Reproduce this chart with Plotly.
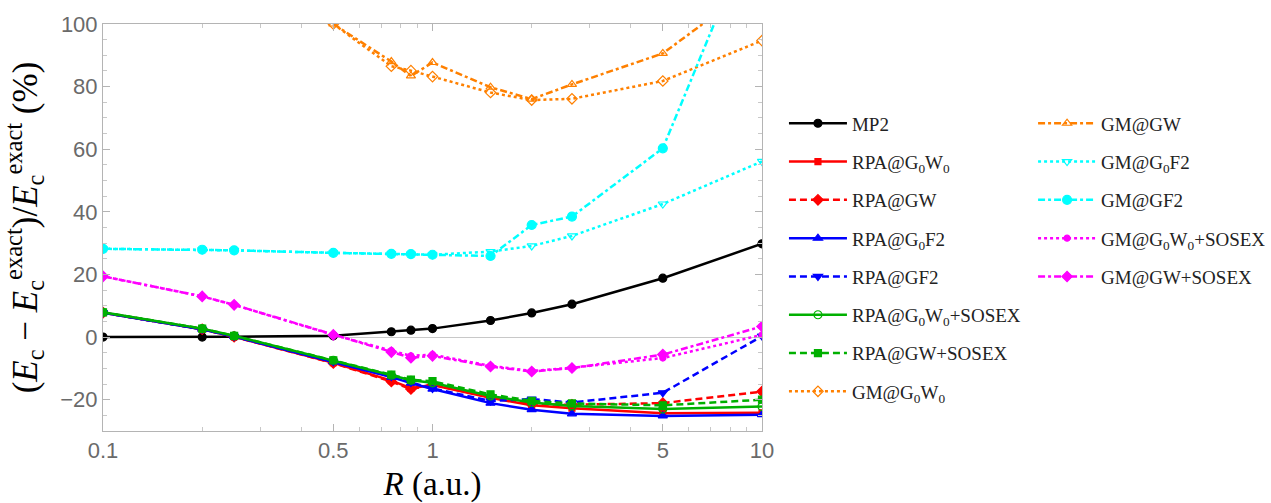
import plotly.graph_objects as go

R = [0.1, 0.2, 0.25, 0.5, 0.75, 0.86, 1.0, 1.5, 2.0, 2.65, 5.0, 10.0]

mp2 = [0.0, 0.0, 0.1, 0.4, 1.7, 2.2, 2.7, 5.3, 7.7, 10.5, 18.8, 29.8]
rpa_g0w0 = [7.8, 2.5, 0.1, -8.2, -13.9, -16.3, -15.3, -19.4, -21.8, -22.7, -24.3, -24.2]
rpa_gw = [7.8, 2.5, 0.1, -8.3, -14.2, -16.6, -15.2, -19.2, -21.5, -21.6, -21.1, -17.4]
rpa_g0f2 = [7.8, 2.5, 0.2, -7.9, -12.8, -14.7, -16.6, -21.1, -23.2, -24.5, -25.2, -24.8]
rpa_gf2 = [7.8, 2.5, 0.2, -7.9, -12.6, -14.5, -16.4, -20.4, -19.8, -20.9, -17.8, 0.3]
rpa_g0w0_sosex = [7.9, 2.7, 0.4, -7.4, -12.2, -13.8, -14.6, -18.8, -20.9, -22.0, -23.0, -22.2]
rpa_gw_sosex = [7.9, 2.7, 0.4, -7.4, -12.0, -13.6, -14.1, -18.3, -20.4, -21.2, -21.8, -20.0]
gm_g0w0 = [None, None, None, 100.0, 86.5, 85.1, 83.2, 78.1, 75.7, 76.1, 81.8, 94.7]
gm_gw = [None, None, None, 100.0, 88.0, 83.4, 87.7, 79.8, 76.0, 80.7, 90.6, 114.0]
gm_g0f2 = [28.2, 27.9, 27.7, 26.9, 26.6, 26.5, 26.3, 27.3, 29.1, 32.3, 42.5, 56.1]
gm_gf2 = [28.2, 27.9, 27.7, 26.9, 26.6, 26.5, 26.3, 25.9, 35.8, 38.5, 60.3, 137.0]
gm_g0w0_sosex = [19.4, 13.0, 10.3, 0.7, -4.3, -6.0, -5.6, -9.2, -10.8, -9.8, -6.7, 0.7]
gm_gw_sosex = [19.4, 13.0, 10.3, 0.7, -4.8, -6.6, -6.0, -9.4, -11.0, -9.9, -5.6, 3.4]

x_tickvals = [0.1, 0.5, 1, 5, 10]
x_ticktext = ["0.1", "0.5", "1", "5", "10"]
x_minor = [0.2, 0.3, 0.4, 0.6, 0.7, 0.8, 0.9, 2, 3, 4, 6, 7, 8, 9]
y_tickvals = [-20, 0, 20, 40, 60, 80, 100]

BLACK = "#000000"
RED = "#ff0000"
BLUE = "#0000ff"
GREEN = "#00b000"
ORANGE = "#ff8000"
CYAN = "#00ffff"
MAGENTA = "#ff00ff"

SOLID = "solid"
DASH = "7px,4px"
DOT = "3px,3px"
DASHDOT = "7px,3px,3px,3px"

series = [
    ("MP2", mp2, BLACK, SOLID, "circle", 8, "legend"),
    ("RPA@G<sub>0</sub>W<sub>0</sub>", rpa_g0w0, RED, SOLID, "square", 6, "legend"),
    ("RPA@GW", rpa_gw, RED, DASH, "diamond", 8, "legend"),
    ("RPA@G<sub>0</sub>F2", rpa_g0f2, BLUE, SOLID, "triangle-up", 8, "legend"),
    ("RPA@GF2", rpa_gf2, BLUE, DASH, "triangle-down", 8, "legend"),
    ("RPA@G<sub>0</sub>W<sub>0</sub>+SOSEX", rpa_g0w0_sosex, GREEN, SOLID, "circle-open", 8, "legend"),
    ("RPA@GW+SOSEX", rpa_gw_sosex, GREEN, DASH, "square", 7, "legend"),
    ("GM@G<sub>0</sub>W<sub>0</sub>", gm_g0w0, ORANGE, DOT, "diamond-open", 8, "legend"),
    ("GM@GW", gm_gw, ORANGE, DASHDOT, "triangle-up-open", 8, "legend2"),
    ("GM@G<sub>0</sub>F2", gm_g0f2, CYAN, DOT, "triangle-down-open", 8, "legend2"),
    ("GM@GF2", gm_gf2, CYAN, DASHDOT, "circle", 9, "legend2"),
    ("GM@G<sub>0</sub>W<sub>0</sub>+SOSEX", gm_g0w0_sosex, MAGENTA, DOT, "circle", 6, "legend2"),
    ("GM@GW+SOSEX", gm_gw_sosex, MAGENTA, DASHDOT, "diamond", 8, "legend2"),
]

fig = go.Figure()
for i, (name, vals, color, dash, sym, size, leg) in enumerate(series):
    fig.add_trace(go.Scatter(
        x=R, y=vals, name=name, mode="lines+markers",
        line=dict(color=color, width=2.5, dash=dash),
        marker=dict(symbol=sym, size=size, color=color,
                    line=dict(color=color, width=1.2)),
        legend=leg, legendgroup=f"g{i}",
    ))

axis_common = dict(
    showline=True, linecolor="#b4b4b4", linewidth=1, mirror="ticks",
    ticks="inside", tickcolor="#b4b4b4", ticklen=7, tickwidth=1,
    showgrid=False, automargin=False,
    tickfont=dict(family="Liberation Sans, Arial", size=22, color="#6a6a6a"),
)

fig.update_xaxes(
    type="log", range=[-1, 1],
    tickvals=x_tickvals, ticktext=x_ticktext,
    minor=dict(tickvals=x_minor, ticks="inside", ticklen=4, tickcolor="#c8c8c8"),
    title=dict(text="<i>R</i> (a.u.)", font=dict(family="Liberation Serif, serif", size=33, color="#000"), standoff=12),
    zeroline=False,
    **axis_common,
)
fig.update_yaxes(
    range=[-30, 100],
    tickvals=y_tickvals,
    minor=dict(dtick=5, ticks="inside", ticklen=4, tickcolor="#c8c8c8"),
    zeroline=True, zerolinecolor="#c8c8c8", zerolinewidth=1,
    title=dict(text="(<i>E</i><sub>c</sub> − <i>E</i><sub>c</sub><sup>exact</sup>)/<i>E</i><sub>c</sub><sup>exact</sup> (%)",
               font=dict(family="Liberation Serif, serif", size=35, color="#000"), standoff=14),
    **axis_common,
)

legend_common = dict(
    font=dict(family="Liberation Serif, serif", size=19, color="#222"),
    bgcolor="rgba(0,0,0,0)", borderwidth=0,
    traceorder="grouped", tracegroupgap=10.6,
    xref="container", yref="paper",
    xanchor="left", yanchor="top", itemwidth=58,
)

fig.update_layout(
    width=1271, height=503,
    margin=dict(l=103, r=509, t=24, b=72),
    paper_bgcolor="white", plot_bgcolor="white",
    showlegend=True,
    legend=dict(x=0.6168, y=0.8025, **legend_common),
    legend2=dict(x=0.8128, y=0.8025, **legend_common),
)

fig.write_html("out.html", config={"displayModeBar": False},
               post_script="document.body.style.margin='0px';")
